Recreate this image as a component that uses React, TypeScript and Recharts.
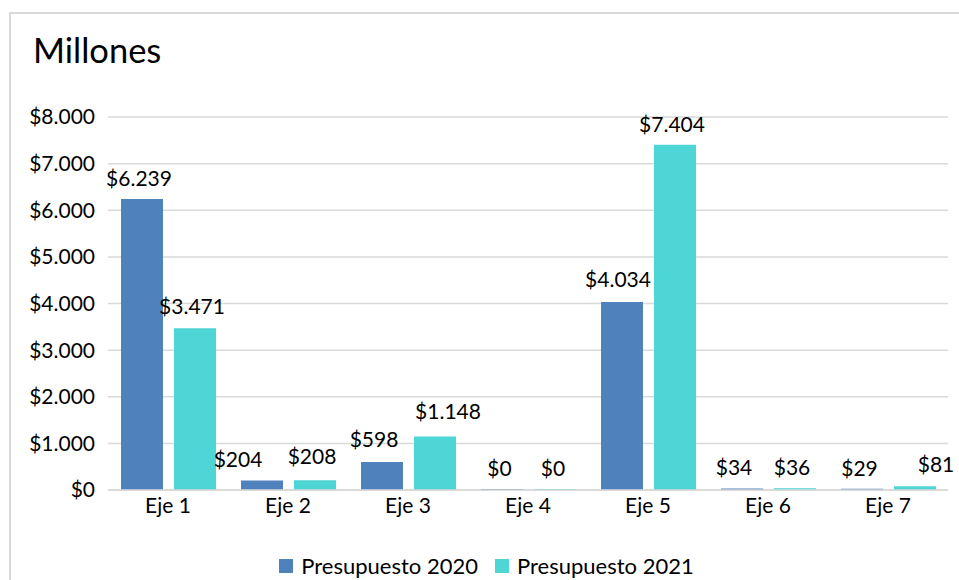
import React from 'react';
import { BarChart, Bar, XAxis, YAxis, CartesianGrid, LabelList } from 'recharts';

const categories = ['Eje 1', 'Eje 2', 'Eje 3', 'Eje 4', 'Eje 5', 'Eje 6', 'Eje 7'];
const presupuesto2020 = [6239, 204, 598, 0, 4034, 34, 29];
const presupuesto2021 = [3471, 208, 1148, 0, 7404, 36, 81];
const yTicks = [0, 1000, 2000, 3000, 4000, 5000, 6000, 7000, 8000];
const seriesNames = ['Presupuesto 2020', 'Presupuesto 2021'];
const colors = ['#4F81BD', '#4DD6D5'];

// label nudges (styling only): horizontal shift and extra lift, px
const labelDxA = [-3, -24, -8, -2.5, -4, -8, -2.5];
const labelDxB = [-3, -3, 13, -2, -3, -3, 21];
const labelLiftA = [0, 0, 2, 0, 2, 0, 0];
const labelLiftB = [1, 3, 4, 0, 0, 0, 1];

const data = categories.map((c, i) => ({ name: c, a: presupuesto2020[i], b: presupuesto2021[i] }));

const FONT = 'Lato, "Open Sans", sans-serif';
const FS = 21;

const fmt = (v: number) => '$' + Math.round(v).toString().replace(/\B(?=(\d{3})+(?!\d))/g, '.');

const makeLabel = (dxs: number[], lifts: number[]) => (props: any) => {
  const { x, y, width, value, index } = props;
  const cx = Number(x) + Number(width) / 2 + (dxs[index] || 0);
  const cy = Number(y) - 13 - (lifts[index] || 0);
  return (
    <text x={cx} y={cy} textAnchor="middle" fill="#000" fontSize={FS} fontFamily={FONT}>
      {fmt(Number(value))}
    </text>
  );
};

export default function App() {
  return (
    <div style={{ position: 'absolute', left: 0, top: 0, width: 959, height: 580, overflow: 'hidden', background: '#fff' }}>
      <div style={{ position: 'absolute', left: 9, top: 12, width: 980, height: 620, border: '2px solid #D9D9D9', boxSizing: 'border-box' }} />
      <div style={{ position: 'absolute', left: 33, top: 29, fontFamily: FONT, fontSize: 34.5, color: '#000', lineHeight: 1.2 }}>Millones</div>
      <div style={{ position: 'absolute', left: 0, top: 0 }}>
        <BarChart width={959} height={580} data={data} margin={{ top: 117, right: 11, left: 8, bottom: 60 }} barCategoryGap={13} barGap={11}>
          <CartesianGrid vertical={false} stroke="#D9D9D9" strokeWidth={1.5} />
          <XAxis dataKey="name" axisLine={{ stroke: '#D9D9D9', strokeWidth: 1.5 }} tickLine={false} tickMargin={2} height={30}
            tick={{ fill: '#000', fontSize: FS, fontFamily: FONT }} />
          <YAxis domain={[0, 8000]} ticks={yTicks} width={100} axisLine={false} tickLine={false} tickMargin={7}
            tickFormatter={fmt} tick={{ fill: '#000', fontSize: FS, fontFamily: FONT }} />
          <Bar dataKey="a" name={seriesNames[0]} fill={colors[0]} minPointSize={1} isAnimationActive={false}>
            <LabelList dataKey="a" content={makeLabel(labelDxA, labelLiftA)} />
          </Bar>
          <Bar dataKey="b" name={seriesNames[1]} fill={colors[1]} minPointSize={1} isAnimationActive={false}>
            <LabelList dataKey="b" content={makeLabel(labelDxB, labelLiftB)} />
          </Bar>
        </BarChart>
      </div>
      <div style={{ position: 'absolute', left: 7, top: 552, width: 959, display: 'flex', justifyContent: 'center', alignItems: 'center', fontFamily: FONT, fontSize: 22, color: '#000', lineHeight: '28px' }}>
        {seriesNames.map((n, i) => (
          <div key={n} style={{ display: 'flex', alignItems: 'center', marginRight: i === 0 ? 17 : 0 }}>
            <div style={{ width: 14, height: 14, background: colors[i], marginRight: 8 }} />
            <span>{n}</span>
          </div>
        ))}
      </div>
    </div>
  );
}
